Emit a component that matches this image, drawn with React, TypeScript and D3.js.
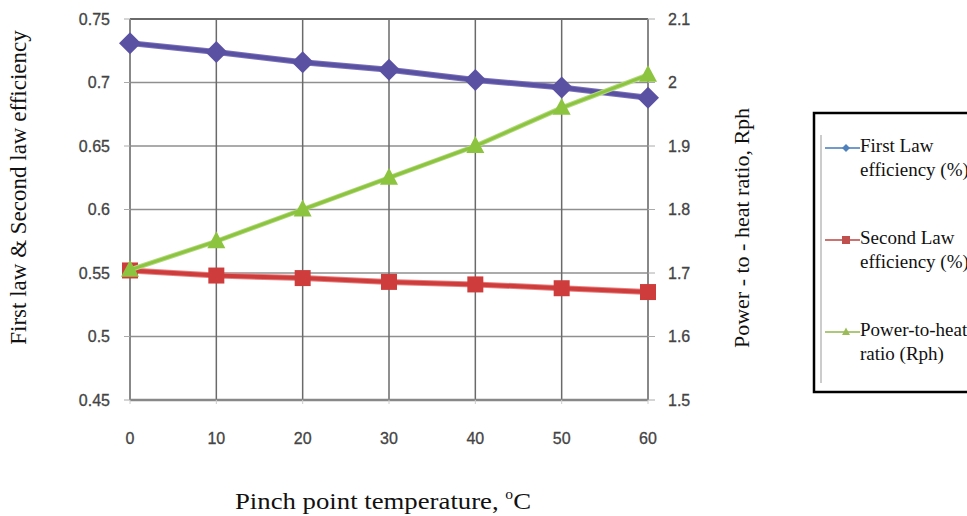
import React from "react";
import * as d3 from "d3";

const temps = [0, 10, 20, 30, 40, 50, 60];
const firstLaw = [0.731, 0.724, 0.716, 0.71, 0.702, 0.696, 0.688];
const secondLaw = [0.552, 0.548, 0.546, 0.543, 0.541, 0.538, 0.535];
const rph = [1.705, 1.75, 1.8, 1.85, 1.9, 1.96, 2.012];

const leftTicks = [0.45, 0.5, 0.55, 0.6, 0.65, 0.7, 0.75];
const rightTicks = [1.5, 1.6, 1.7, 1.8, 1.9, 2, 2.1];

const legendItems = [
  { lines: ["First Law", "efficiency (%)"], color: "#4f81bd", shape: "diamond" },
  { lines: ["Second Law", "efficiency (%)"], color: "#c0504d", shape: "square" },
  { lines: ["Power-to-heat", "ratio (Rph)"], color: "#9bbb59", shape: "triangle" },
];

const W = 967;
const H = 516;
const left = 130;
const right = 648;
const top = 19;
const bottom = 400;

const serif = "'Liberation Serif', 'Times New Roman', serif";
const sans = "'Liberation Sans', Arial, sans-serif";

function marker(shape: string, x: number, y: number, s: number, fill: string, key?: any) {
  if (shape === "diamond") {
    return <path key={key} d={`M${x},${y - s}L${x + s},${y}L${x},${y + s}L${x - s},${y}Z`} fill={fill} />;
  }
  if (shape === "square") {
    return <rect key={key} x={x - s} y={y - s} width={2 * s} height={2 * s} fill={fill} />;
  }
  const h = s * 1.1;
  return <path key={key} d={`M${x},${y - h}L${x + s},${y + h * 0.7}L${x - s},${y + h * 0.7}Z`} fill={fill} />;
}

export default function App() {
  const x = d3.scaleLinear().domain([0, 60]).range([left, right]);
  const yL = d3.scaleLinear().domain([0.45, 0.75]).range([bottom, top]);
  const yR = d3.scaleLinear().domain([1.5, 2.1]).range([bottom, top]);

  const lineL = d3.line<number>().x((_, i) => x(temps[i])).y((d) => yL(d));
  const lineR = d3.line<number>().x((_, i) => x(temps[i])).y((d) => yR(d));

  const series = [
    { data: firstLaw, gen: lineL, y: yL, color: "#5b51a3", edge: "#7a72b8", shape: "diamond", size: 11, w: 4 },
    { data: secondLaw, gen: lineL, y: yL, color: "#cf3c3c", edge: "#e58080", shape: "square", size: 8, w: 4 },
    { data: rph, gen: lineR, y: yR, color: "#8cc43f", edge: "#b2d97f", shape: "triangle", size: 9, w: 3 },
  ];

  return (
    <svg width={W} height={H} style={{ position: "absolute", left: 0, top: 0, background: "#fff" }}>
      {/* horizontal grid */}
      {leftTicks.map((t) => (
        <line key={"h" + t} x1={left} x2={right} y1={yL(t)} y2={yL(t)} stroke="#8f8f8f" strokeWidth={1.5} />
      ))}
      {/* vertical grid */}
      {temps.map((t) => (
        <line key={"v" + t} x1={x(t)} x2={x(t)} y1={top} y2={bottom} stroke="#6a6a6a" strokeWidth={1.5} />
      ))}
      <line x1={left} x2={right} y1={top} y2={top} stroke="#6a6a6a" strokeWidth={2} />
      <line x1={left} x2={right} y1={bottom} y2={bottom} stroke="#888" strokeWidth={2.5} />
      <line x1={left} x2={left} y1={top} y2={bottom} stroke="#888" strokeWidth={2} />
      <line x1={right} x2={right} y1={top} y2={bottom} stroke="#888" strokeWidth={2} />

      {/* left axis */}
      {leftTicks.map((t) => (
        <g key={"lt" + t}>
          <line x1={left - 6} x2={left} y1={yL(t)} y2={yL(t)} stroke="#aaa" strokeWidth={1} />
          <text x={110} y={yL(t)} dy="0.35em" textAnchor="end" fontFamily={sans} fontSize={16} fill="#444" stroke="#444" strokeWidth={0.3}>
            {t}
          </text>
        </g>
      ))}
      {/* right axis */}
      {rightTicks.map((t) => (
        <g key={"rt" + t}>
          <line x1={right} x2={right + 7} y1={yR(t)} y2={yR(t)} stroke="#aaa" strokeWidth={1} />
          <text x={668} y={yR(t)} dy="0.35em" textAnchor="start" fontFamily={sans} fontSize={16} fill="#444" stroke="#444" strokeWidth={0.3}>
            {t}
          </text>
        </g>
      ))}
      {/* x axis */}
      {temps.map((t) => (
        <g key={"xt" + t}>
          <line x1={x(t)} x2={x(t)} y1={bottom} y2={bottom + 4} stroke="#ccc" strokeWidth={1} />
          <text x={x(t)} y={438} dy="0.35em" textAnchor="middle" fontFamily={sans} fontSize={16} fill="#444" stroke="#444" strokeWidth={0.3}>
            {t}
          </text>
        </g>
      ))}

      {/* series */}
      {series.map((s, k) => (
        <g key={"s" + k}>
          <path d={s.gen(s.data) || ""} fill="none" stroke={s.edge} strokeWidth={s.w + 2} />
          <path d={s.gen(s.data) || ""} fill="none" stroke={s.color} strokeWidth={s.w} />
          {s.data.map((d, i) => marker(s.shape, x(temps[i]), s.y(d), s.size, s.color, i))}
        </g>
      ))}

      {/* axis titles */}
      <text transform={`translate(26, ${(25 + 350) / 2}) rotate(-90)`} textAnchor="middle" fontFamily={serif} fontSize={23} fill="#111">
        First law &amp; Second law efficiency
      </text>
      <text transform={`translate(749, 228) rotate(-90)`} textAnchor="middle" fontFamily={serif} fontSize={22} fill="#111">
        Power - to - heat ratio, Rph
      </text>
      <text x={235} y={509} fontFamily={serif} fontSize={24} fill="#111" textLength={296} lengthAdjust="spacingAndGlyphs">
        Pinch point temperature, <tspan fontSize={14} dy={-10}>o</tspan>
        <tspan dy={10}>C</tspan>
      </text>

      {/* legend */}
      <rect x={814} y={113} width={200} height={279} fill="#fff" stroke="#000" strokeWidth={2.5} />
      <line x1={821} x2={821} y1={135} y2={383} stroke="#999" strokeWidth={1} />
      {legendItems.map((it, i) => {
        const cy = 148 + i * 92;
        return (
          <g key={"lg" + i}>
            <line x1={825} x2={860} y1={cy} y2={cy} stroke={it.color} strokeWidth={2} opacity={0.8} />
            {marker(it.shape, 846, cy, 4, it.color)}
            <text x={860} y={cy + 4} fontFamily={serif} fontSize={19} fill="#111">
              <tspan x={860}>{it.lines[0]}</tspan>
              <tspan x={860} dy={24}>{it.lines[1]}</tspan>
            </text>
          </g>
        );
      })}
    </svg>
  );
}
